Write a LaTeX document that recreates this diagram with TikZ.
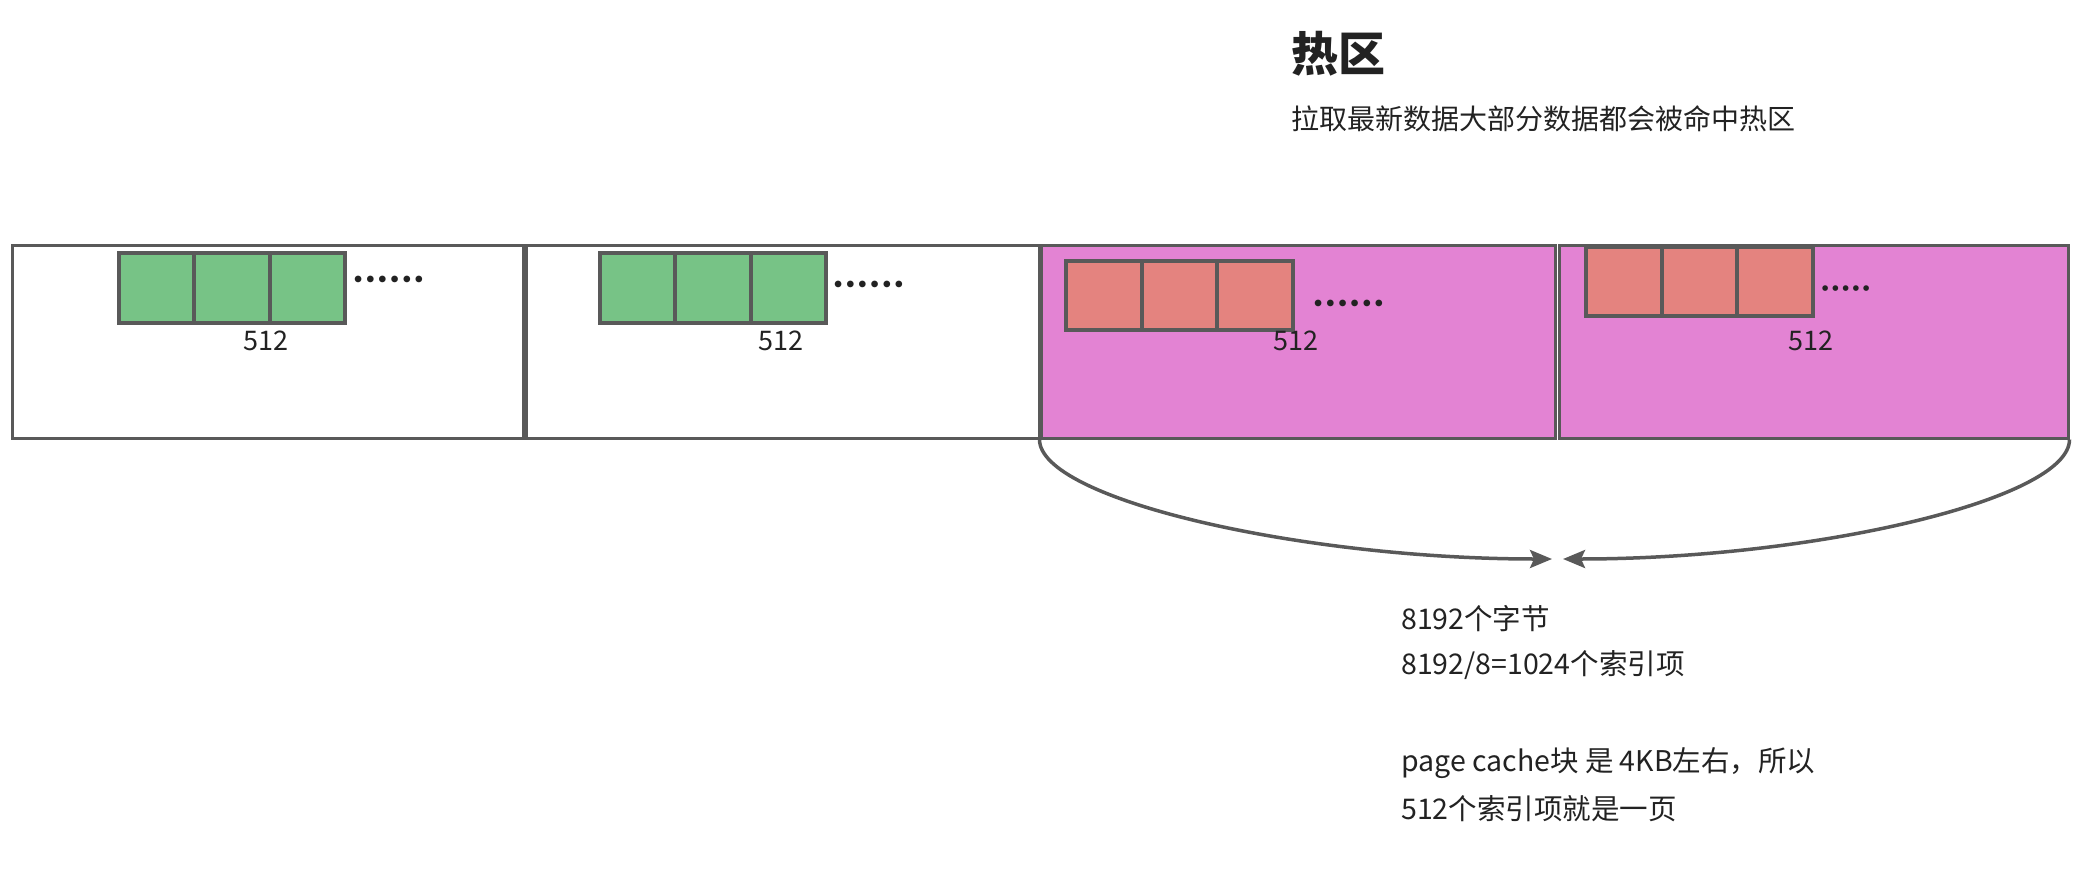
\documentclass[tikz,border=0pt]{standalone}
\usepackage{fontspec}
\setmainfont{Noto Sans CJK SC}
\newfontfamily\dotfont{DejaVu Sans}
\usetikzlibrary{arrows.meta}
\definecolor{linec}{HTML}{595959}
\definecolor{greenf}{HTML}{77C386}
\definecolor{redf}{HTML}{E4837F}
\definecolor{pinkf}{HTML}{E383D3}
\definecolor{txt}{HTML}{222222}
\begin{document}
\begin{tikzpicture}[x=1pt,y=-1pt,
  panel/.style={draw=linec, line width=3pt, anchor=north west, inner sep=0pt, minimum height=193pt},
  gcell/.style={draw=linec, line width=4pt, fill=greenf, anchor=north west, inner sep=0pt, minimum width=75.5pt, minimum height=70pt},
  rcell/.style={draw=linec, line width=4pt, fill=redf, anchor=north west, inner sep=0pt, minimum width=75.5pt, minimum height=69pt},
  num/.style={font=\fontsize{27}{30}\selectfont, text=txt, inner sep=0pt},
  dotsA/.style={font=\dotfont\bfseries\fontsize{19}{22}\selectfont, text=txt, inner sep=0pt, anchor=west},
  dotsB/.style={font=\dotfont\bfseries\fontsize{16}{20}\selectfont, text=txt, inner sep=0pt, anchor=west},
  note/.style={font=\fontsize{28.5}{32}\selectfont, text=txt, inner sep=0pt, anchor=west},
  conn/.style={draw=linec, line width=3.5pt, -{Stealth[length=22pt,width=18pt,inset=4pt]}}
]
\useasboundingbox (0,0) rectangle (2084,888);

% panels
\node[panel, minimum width=511pt] (b1) at (10.5,243.5) {};
\node[panel, minimum width=512.5pt] (b2) at (525,243.5) {};
\node[panel, minimum width=514pt, fill=pinkf] (b3) at (1039.5,243.5) {};
\node[panel, minimum width=509pt, fill=pinkf] (b4) at (1557.5,243.5) {};

% green cells, panel 1
\node[gcell] (g11) at (116.5,250.5) {};
\node[gcell] (g12) at (192,250.5) {};
\node[gcell] (g13) at (267.5,250.5) {};
% green cells, panel 2
\node[gcell] (g21) at (597.5,250.5) {};
\node[gcell] (g22) at (673,250.5) {};
\node[gcell] (g23) at (748.5,250.5) {};
% red cells, panel 3
\node[rcell] (r31) at (1064,259) {};
\node[rcell] (r32) at (1139.5,259) {};
\node[rcell] (r33) at (1215,259) {};
% red cells, panel 4
\node[rcell] (r41) at (1584,245) {};
\node[rcell] (r42) at (1659.5,245) {};
\node[rcell] (r43) at (1735,245) {};

% dots
\node[dotsA] (d1) at (352,281) {••••••};
\node[dotsA] (d2) at (832,286) {••••••};
\node[dotsA] (d3) at (1312,305) {••••••};
\node[dotsB] (d4) at (1820,290) {•••••};

% 512 labels
\node[num] (l1) at (266,340.5) {512};
\node[num] (l2) at (781,340.5) {512};
\node[num] (l3) at (1296,340.5) {512};
\node[num] (l4) at (1811,340.5) {512};

% title
\node[inner sep=0pt, anchor=west, text=txt, font=\bfseries\fontsize{47}{50}\selectfont] (title) at (1291,54) {热区};
\node[inner sep=0pt, anchor=west, text=txt, font=\fontsize{28}{32}\selectfont] (sub) at (1291,119) {拉取最新数据大部分数据都会被命中热区};

% arrows
\coordinate (tipL) at (1552,559);
\coordinate (tipR) at (1563,559);
\draw[conn] (b3.south west) .. controls +(0,60) and +(-250,0) .. (tipL);
\draw[conn] (b4.south east) .. controls +(0,60) and +(250,0) .. (tipR);

% notes
\node[note] (n1) at (1401,619) {8192个字节};
\node[note] (n2) at (1401,665) {8192/8=1024个索引项};
\node[note] (n3) at (1401,763) {page cache块 是 4KB左右，所以};
\node[note] (n4) at (1401,809) {512个索引项就是一页};
\end{tikzpicture}
\end{document}
